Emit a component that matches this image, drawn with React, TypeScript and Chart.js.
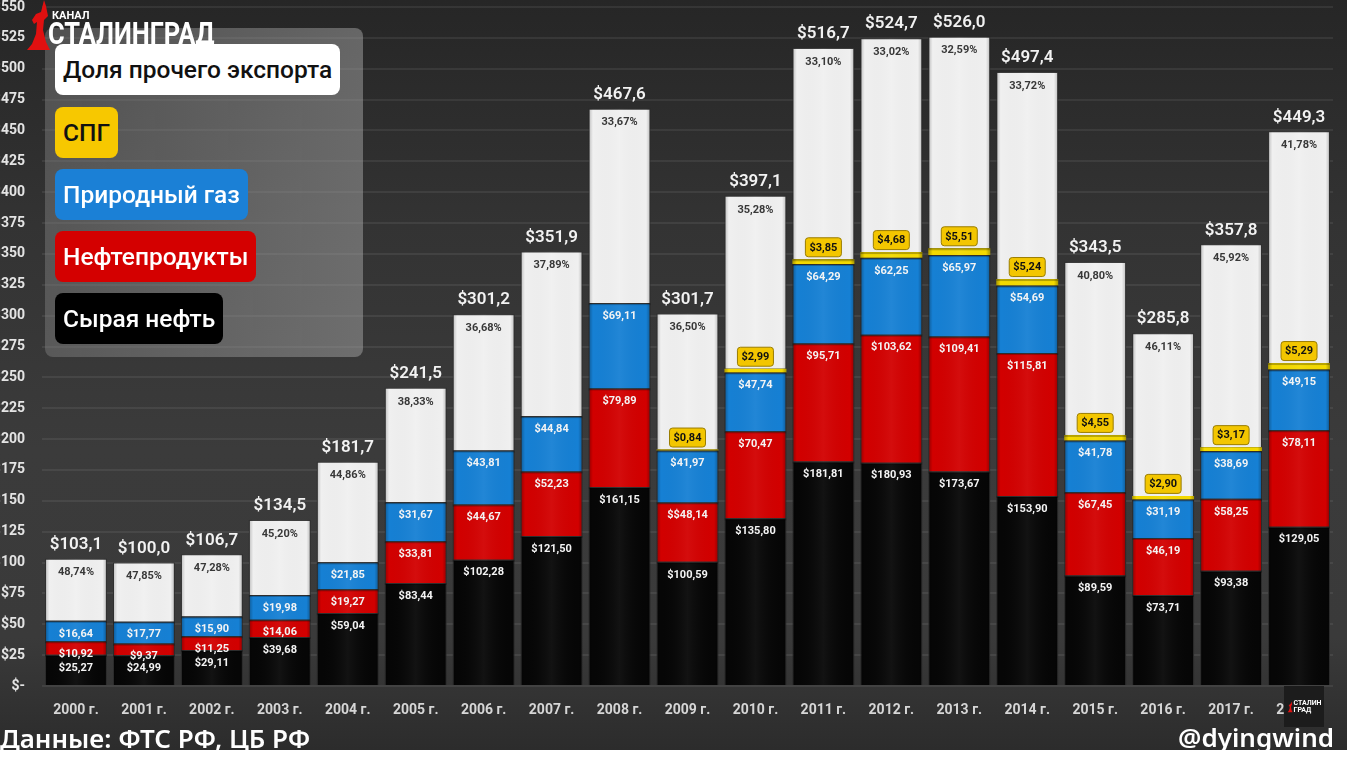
import React, { useEffect, useRef } from "react";
import { Chart, registerables } from "chart.js";

Chart.register(...registerables);

const years = [
  "2000 г.", "2001 г.", "2002 г.", "2003 г.", "2004 г.", "2005 г.", "2006 г.", "2007 г.", "2008 г.", "2009 г.",
  "2010 г.", "2011 г.", "2012 г.", "2013 г.", "2014 г.", "2015 г.", "2016 г.", "2017 г.", "2018 г.",
];
const crudeOil = [25.27, 24.99, 29.11, 39.68, 59.04, 83.44, 102.28, 121.5, 161.15, 100.59, 135.8, 181.81, 180.93, 173.67, 153.9, 89.59, 73.71, 93.38, 129.05];
const oilProducts = [10.92, 9.37, 11.25, 14.06, 19.27, 33.81, 44.67, 52.23, 79.89, 48.14, 70.47, 95.71, 103.62, 109.41, 115.81, 67.45, 46.19, 58.25, 78.11];
const naturalGas = [16.64, 17.77, 15.9, 19.98, 21.85, 31.67, 43.81, 44.84, 69.11, 41.97, 47.74, 64.29, 62.25, 65.97, 54.69, 41.78, 31.19, 38.69, 49.15];
const lng: (number | null)[] = [null, null, null, null, null, null, null, null, null, 0.84, 2.99, 3.85, 4.68, 5.51, 5.24, 4.55, 2.9, 3.17, 5.29];
const otherExports = [50.27, 47.87, 50.44, 60.78, 81.54, 92.58, 110.44, 133.33, 157.45, 110.16, 140.1, 171.04, 173.22, 171.44, 167.76, 140.13, 131.81, 164.31, 187.7];
const totals = [103.1, 100.0, 106.7, 134.5, 181.7, 241.5, 301.2, 351.9, 467.6, 301.7, 397.1, 516.7, 524.7, 526.0, 497.4, 343.5, 285.8, 357.8, 449.3];
const otherShare = [48.74, 47.85, 47.28, 45.2, 44.86, 38.33, 36.68, 37.89, 33.67, 36.5, 35.28, 33.1, 33.02, 32.59, 33.72, 40.8, 46.11, 45.92, 41.78];
const labelOverrides: Record<string, string> = { "1-9": "$$48,14" };

const seriesNames = ["Сырая нефть", "Нефтепродукты", "Природный газ", "СПГ", "Доля прочего экспорта"];
const seriesColors = ["#060606", "#d20000", "#1680d4", "#f4da00", "#f0f0f0"];
const legendColors = ["#000000", "#d40000", "#1b80d6", "#f7c800", "#ffffff"];
const legendText = ["#ffffff", "#ffffff", "#ffffff", "#111111", "#111111"];

const comma = (v: number, d: number) => v.toFixed(d).replace(".", ",");
const yTickLabel = (v: number) => (v === 0 ? "$-" : "$" + v);

const FONT = "Roboto, 'DejaVu Sans', sans-serif";

const yLabelPlugin = {
  id: "yLabels",
  afterDraw(chart: any) {
    const ctx = chart.ctx as CanvasRenderingContext2D;
    const sc = chart.scales.y;
    ctx.save();
    ctx.font = `bold 14px ${FONT}`;
    ctx.fillStyle = "#e4e4e4";
    ctx.textAlign = "right";
    ctx.textBaseline = "middle";
    sc.ticks.forEach((t: any) => {
      ctx.fillText(yTickLabel(t.value), sc.right - 17, sc.getPixelForValue(t.value));
    });
    ctx.restore();
  },
};

const labelPlugin = {
  id: "segLabels",
  afterDatasetsDraw(chart: any) {
    const ctx = chart.ctx as CanvasRenderingContext2D;
    ctx.save();
    // bevel shading
    chart.data.datasets.forEach((ds: any, di: number) => {
      const meta = chart.getDatasetMeta(di);
      meta.data.forEach((el: any, i: number) => {
        if (ds.data[i] == null) return;
        const { x, y, base, width } = el.getProps(["x", "y", "base", "width"], true);
        const left = x - width / 2;
        const top = Math.min(y, base);
        const h = Math.abs(base - y);
        const g = ctx.createLinearGradient(left, 0, left + width, 0);
        const dark = di === 4 ? 0.22 : 0.3;
        g.addColorStop(0, `rgba(0,0,0,${dark})`);
        g.addColorStop(0.07, "rgba(0,0,0,0)");
        g.addColorStop(0.5, "rgba(255,255,255,0.05)");
        g.addColorStop(0.93, "rgba(0,0,0,0)");
        g.addColorStop(1, `rgba(0,0,0,${dark})`);
        ctx.fillStyle = g;
        ctx.fillRect(left, top, width, h);
        if (di < 4 && h > 4) {
          ctx.fillStyle = "rgba(0,0,0,0.25)";
          ctx.fillRect(left, top, width, 2);
        }
      });
    });
    ctx.textAlign = "center";
    ctx.textBaseline = "middle";
    // segment labels
    for (let di = 0; di < 3; di++) {
      const meta = chart.getDatasetMeta(di);
      const ds = chart.data.datasets[di];
      meta.data.forEach((el: any, i: number) => {
        const v = ds.data[i];
        if (v == null) return;
        const { x, y } = el.getProps(["x", "y"], true);
        const txt = labelOverrides[`${di}-${i}`] ?? "$" + comma(v, 2);
        ctx.font = `bold 11px ${FONT}`;
        ctx.fillStyle = "#f4f4f4";
        ctx.fillText(txt, x, y + 13);
      });
    }
    // LNG labels
    {
      const meta = chart.getDatasetMeta(3);
      const ds = chart.data.datasets[3];
      meta.data.forEach((el: any, i: number) => {
        const v = ds.data[i];
        if (v == null) return;
        const { x, y } = el.getProps(["x", "y"], true);
        const w = 36, h = 19, cy = y - 12;
        ctx.fillStyle = "#f3c600";
        ctx.strokeStyle = "#9a7d00";
        ctx.lineWidth = 1;
        ctx.beginPath();
        (ctx as any).roundRect(x - w / 2, cy - h / 2, w, h, 3);
        ctx.fill();
        ctx.stroke();
        ctx.fillStyle = "#111";
        ctx.font = `bold 11px ${FONT}`;
        ctx.fillText("$" + comma(v, 2), x, cy + 0.5);
      });
    }
    // other share + totals
    {
      const meta = chart.getDatasetMeta(4);
      meta.data.forEach((el: any, i: number) => {
        const { x, y } = el.getProps(["x", "y"], true);
        ctx.font = `bold 11px ${FONT}`;
        ctx.fillStyle = "#383838";
        ctx.fillText(comma(otherShare[i], 2) + "%", x, y + 14);
        ctx.font = `600 17px ${FONT}`;
        ctx.fillStyle = "#f2f2f2";
        ctx.fillText("$" + comma(totals[i], 1), x, y - 14);
      });
    }
    ctx.restore();
  },
};

export default function App() {
  const ref = useRef<HTMLCanvasElement>(null);
  useEffect(() => {
    if (!ref.current) return;
    const dataSeries = [crudeOil, oilProducts, naturalGas, lng, otherExports];
    const chart = new Chart(ref.current, {
      type: "bar",
      data: {
        labels: years,
        datasets: dataSeries.map((d, k) => ({
          label: seriesNames[k],
          data: d as any,
          backgroundColor: seriesColors[k],
          borderColor: "#3c3c3c",
          borderWidth: k === 3 ? 0 : 1,
          barPercentage: 0.91,
          categoryPercentage: 1,
        })),
      },
      options: {
        responsive: false,
        animation: false,
        devicePixelRatio: 1,
        layout: { padding: { top: 7, right: 14, left: 0, bottom: 0 } },
        plugins: { legend: { display: false }, tooltip: { enabled: false } },
        scales: {
          x: {
            stacked: true,
            grid: { display: false },
            border: { display: false },
            ticks: { color: "#d6d6d6", font: { family: FONT, size: 14, weight: "bold" }, padding: 8 },
            afterFit: (s: any) => { s.height = 64; },
          },
          y: {
            stacked: true,
            min: 0,
            max: 550,
            grid: { color: "rgba(255,255,255,0.07)", lineWidth: 2, drawTicks: false },
            border: { display: false },
            ticks: { stepSize: 25, display: false },
            afterFit: (s: any) => { s.width = 42; },
          },
        },
      },
      plugins: [labelPlugin, yLabelPlugin],
    });
    return () => chart.destroy();
  }, []);

  const legendOrder = [4, 3, 2, 1, 0];
  const pillTops = [44, 107, 169, 231, 293];

  return (
    <div style={{ position: "fixed", left: 0, top: 0, width: 1366, height: 768, background: "#fff", overflow: "hidden" }}>
      <div
        style={{
          position: "absolute", left: 0, top: 0, width: 1347, height: 750,
          background: "linear-gradient(to bottom, #262626 0%, #333333 30%, #3b3b3b 60%, #3a3a3a 85%, #2c2c2c 100%)",
        }}
      />
      <canvas ref={ref} width={1347} height={750} style={{ position: "absolute", left: 0, top: 0 }} />
      {/* legend panel */}
      <div
        style={{
          position: "absolute", left: 45, top: 28, width: 318, height: 329, borderRadius: 8,
          background: "linear-gradient(to right, rgba(130,130,130,0.45), rgba(165,165,165,0.5))",
        }}
      />
      {/* logo */}
      <svg style={{ position: "absolute", left: 24, top: 0 }} width={28} height={52} viewBox="0 0 28 52">
        <path d="M20 0 L17 12 L12 14 L8 20 L10 24 L13 22 L12 34 L8 44 L3 50 L26 50 L22 42 L19 30 L20 20 L24 16 L22 6 Z" fill="#e01010" />
      </svg>
      <div style={{ position: "absolute", left: 52, top: 9, color: "#fff", font: `bold 11px ${FONT}`, letterSpacing: 0 }}>КАНАЛ</div>
      <div
        style={{
          position: "absolute", left: 48, top: 17, color: "#fff", font: `bold 31px ${FONT}`,
          transform: "scaleX(0.82)", transformOrigin: "left top", lineHeight: "34px", whiteSpace: "nowrap",
        }}
      >
        СТАЛИНГРАД
      </div>
      {legendOrder.map((k, j) => (
        <div
          key={k}
          style={{
            position: "absolute", left: 55, top: pillTops[j], height: 51, padding: "0 8px", borderRadius: 8,
            background: legendColors[k], color: legendText[k], font: `500 24.5px ${FONT}`,
            display: "flex", alignItems: "center", whiteSpace: "nowrap",
          }}
        >
          {seriesNames[k]}
        </div>
      ))}
      {/* footer */}
      <div style={{ position: "absolute", left: 0, top: 722, color: "#fff", font: `600 26px 'Noto Sans', sans-serif`, whiteSpace: "nowrap", lineHeight: "32px" }}>
        Данные: ФТС РФ, ЦБ РФ
      </div>
      <div style={{ position: "absolute", right: 1366 - 1334, top: 721, color: "#fff", font: `600 26px 'Noto Sans', sans-serif`, whiteSpace: "nowrap", lineHeight: "32px" }}>
        @dyingwind
      </div>
      <div style={{ position: "absolute", left: 1284, top: 686, width: 40, height: 41, background: "#1c1c1c", display: "flex", alignItems: "center", justifyContent: "center" }}>
        <svg width={6} height={14} viewBox="0 0 28 52"><path d="M20 0 L17 12 L12 14 L8 20 L10 24 L13 22 L12 34 L8 44 L3 50 L26 50 L22 42 L19 30 L20 20 L24 16 L22 6 Z" fill="#e01010" /></svg>
        <div style={{ color: "#fff", font: `bold 7px ${FONT}`, lineHeight: "7px", marginLeft: 1 }}>СТАЛИН<br />ГРАД</div>
      </div>
    </div>
  );
}
